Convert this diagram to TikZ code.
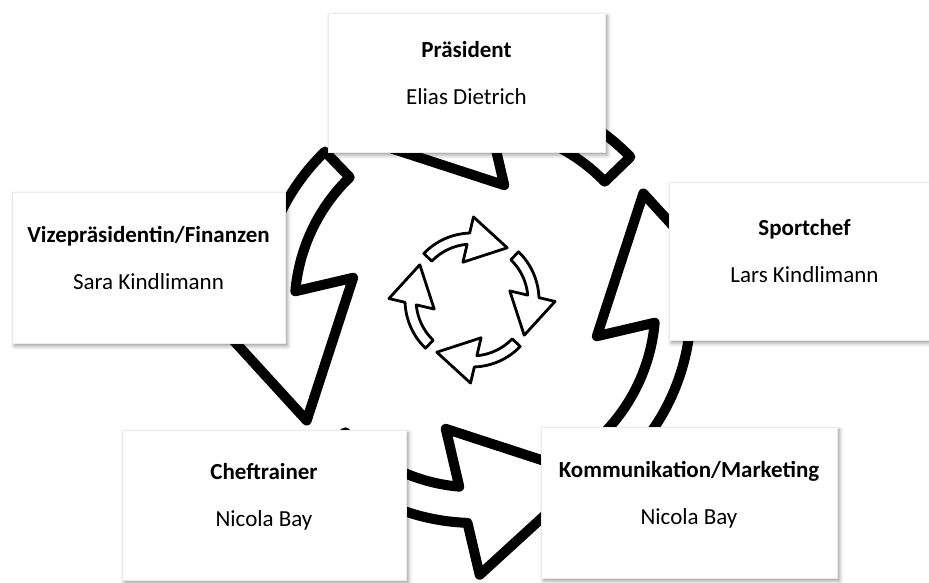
\documentclass[tikz,border=0pt]{standalone}
\usepackage{fontspec}
\setmainfont{Carlito}
\usetikzlibrary{shadows.blur}

\tikzset{
  zyklus/.pic={
    \foreach \a in {0,90,180,270}
      \draw[rotate=\a] (136:1) arc[start angle=136, end angle=92, radius=1]
        -- (89:1.24) -- (56:0.94) -- (103.5:0.58) -- (95:0.835)
        arc[start angle=95, end angle=136, radius=0.835] -- cycle;
  }
}

\begin{document}
\begin{tikzpicture}[x=1pt, y=1pt,
    box/.style={fill=white, draw=black!8, inner sep=0pt,
      blur shadow={shadow xshift=2.5pt, shadow yshift=-3pt, shadow blur radius=4pt, shadow opacity=40}},
    rolle/.style={anchor=base, font=\fontsize{23}{27}\selectfont\bfseries},
    person/.style={anchor=base, font=\fontsize{23}{27}\selectfont}]
  \useasboundingbox (0,0) rectangle (929,583);

  % Draw the cycle arrows
  \pic[line width=10pt, line join=round, xscale=-216, yscale=216] (gross) at (475,276) {zyklus};
  \pic[line width=2.8pt, line join=round, scale=67] (klein) at (472,283) {zyklus};

  % Define the boxes
  \node[box, minimum width=277pt, minimum height=139pt] (praes) at (466.5,500.5) {};
  \node[rolle] (praes-r) at ([yshift=25pt]praes.center) {Präsident};
  \node[person] (praes-p) at ([yshift=-22pt]praes.center) {Elias Dietrich};

  \node[box, minimum width=273pt, minimum height=151pt] (vize) at (148.5,315.5) {};
  \node[rolle] (vize-r) at ([yshift=25pt]vize.center) {Vizepräsidentin/Finanzen};
  \node[person] (vize-p) at ([yshift=-22pt]vize.center) {Sara Kindlimann};

  \node[box, minimum width=271pt, minimum height=158pt] (sport) at (804.5,322) {};
  \node[rolle] (sport-r) at ([yshift=25pt]sport.center) {Sportchef};
  \node[person] (sport-p) at ([yshift=-22pt]sport.center) {Lars Kindlimann};

  \node[box, minimum width=284pt, minimum height=150pt] (trainer) at (264,78) {};
  \node[rolle] (trainer-r) at ([yshift=25pt]trainer.center) {Cheftrainer};
  \node[person] (trainer-p) at ([yshift=-22pt]trainer.center) {Nicola Bay};

  \node[box, minimum width=296pt, minimum height=151pt] (komm) at (689,80.5) {};
  \node[rolle] (komm-r) at ([yshift=25pt]komm.center) {Kommunikation/Marketing};
  \node[person] (komm-p) at ([yshift=-22pt]komm.center) {Nicola Bay};
\end{tikzpicture}
\end{document}
